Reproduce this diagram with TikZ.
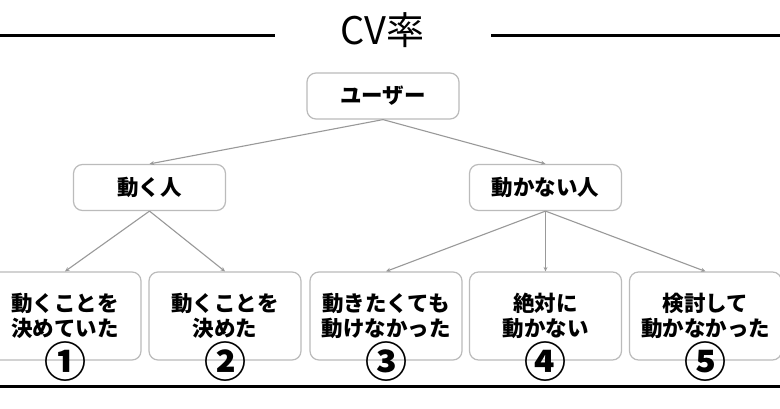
\documentclass[tikz,border=0pt]{standalone}
\usepackage{fontspec}
\newfontfamily\jp{Noto Sans CJK JP}
\usetikzlibrary{arrows.meta}
\definecolor{boxgray}{HTML}{BBBBBB}
\definecolor{arrgray}{HTML}{999999}
\tikzset{
  box/.style={draw=boxgray, line width=1.2pt, rounded corners=9pt, fill=white,
    minimum width=152pt, minimum height=46pt, inner sep=0pt,
    font=\jp\bfseries\fontsize{21.5}{25.5}\selectfont, align=center},
  leaf/.style={box, minimum height=88pt},
  arr/.style={draw=arrgray, line width=1.1pt, -{Stealth[length=4.5pt,width=4pt]}},
  rule/.style={line width=3pt, black},
  num/.style={font=\jp\bfseries\fontsize{42}{42}\selectfont, inner sep=0pt}
}
\begin{document}
\begin{tikzpicture}[x=1pt,y=-1pt]
\clip (0,0) rectangle (780,408);
\fill[white] (0,0) rectangle (780,408);
% title
\node[font=\jp\fontsize{38}{38}\selectfont, inner sep=0pt] (title) at (382,30) {CV率};
\coordinate (tl0) at (0,35);
\coordinate (tl1) at (275,35);
\coordinate (tr0) at (491,35);
\coordinate (tr1) at (780,35);
\draw[rule] (tl0) -- (tl1);
\draw[rule] (tr0) -- (tr1);
% nodes
\node[box] (user) at (383,96) {ユーザー};
\node[box] (move) at (149.5,187.5) {動く人};
\node[box] (nomove) at (545.5,187.5) {動かない人};
\node[leaf] (b1) at (65,316) {動くことを\\決めていた};
\node[leaf] (b2) at (225,316) {動くことを\\決めた};
\node[leaf] (b3) at (386,316) {動きたくても\\動けなかった};
\node[leaf] (b4) at (545.5,316) {絶対に\\動かない};
\node[leaf] (b5) at (705.5,316) {検討して\\動かなかった};
% numbers
\node[num] (n1) at (65,362) {①};
\node[num] (n2) at (225,362) {②};
\node[num] (n3) at (386,362) {③};
\node[num] (n4) at (545.5,362) {④};
\node[num] (n5) at (705.5,362) {⑤};
% arrows
\draw[arr] (user.south) -- (move.north);
\draw[arr] (user.south) -- (nomove.north);
\draw[arr] (move.south) -- (b1.north);
\draw[arr] (move.south) -- (b2.north);
\draw[arr] (nomove.south) -- (b3.north);
\draw[arr] (nomove.south) -- (b4.north);
\draw[arr] (nomove.south) -- (b5.north);
% bottom rule
\coordinate (bl0) at (0,386);
\coordinate (bl1) at (780,386);
\draw[rule] (bl0) -- (bl1);
\end{tikzpicture}
\end{document}
